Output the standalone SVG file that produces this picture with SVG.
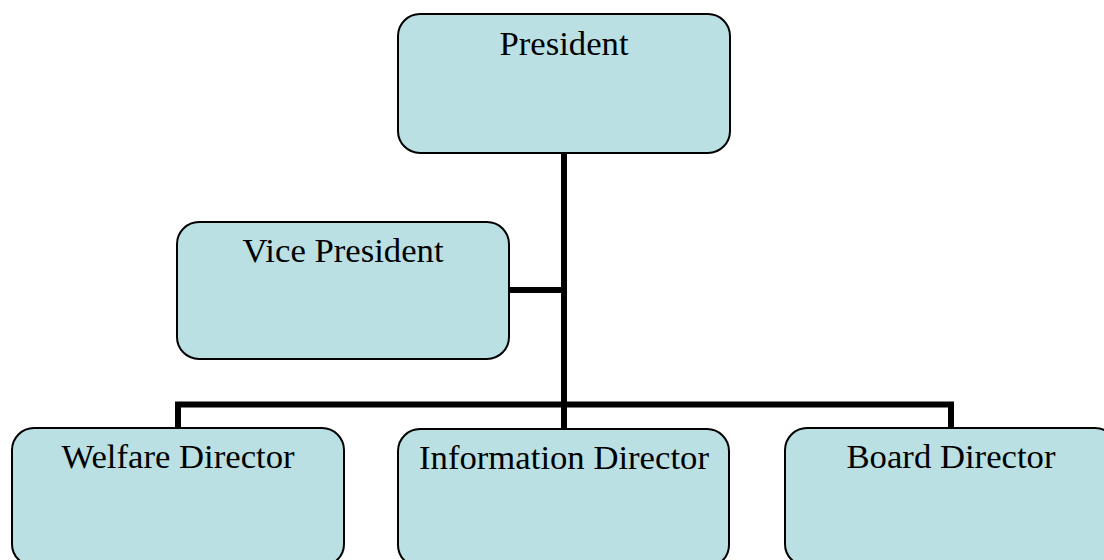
<svg xmlns="http://www.w3.org/2000/svg" width="1104" height="560" viewBox="0 0 1104 560">
<style>
.box{fill:#BAE0E3;stroke:#000;stroke-width:2}
.lbl{font-family:"Liberation Serif","Times New Roman",serif;font-size:34.7px;fill:#000;text-anchor:middle}
.conn{fill:none;stroke:#000;stroke-width:6;stroke-linejoin:miter;stroke-linecap:butt}
</style>
<rect width="1104" height="560" fill="#fff"/>
<g id="connectors">
<path class="conn" d="M564,153 V429"/>
<path class="conn" d="M509,290 H564"/>
<path class="conn" d="M178,428 V404.5 H951 V428"/>
</g>
<g id="president">
<rect class="box" x="398" y="14" width="332" height="139" rx="22"/>
<text class="lbl" x="564" y="55">President</text>
</g>
<g id="vice-president">
<rect class="box" x="177" y="222" width="332" height="137" rx="22"/>
<text class="lbl" x="343" y="262">Vice President</text>
</g>
<g id="welfare-director">
<rect class="box" x="12" y="428" width="332" height="138" rx="22"/>
<text class="lbl" x="178" y="468">Welfare Director</text>
</g>
<g id="information-director">
<rect class="box" x="398" y="429" width="331" height="138" rx="22"/>
<text class="lbl" x="564" y="469">Information Director</text>
</g>
<g id="board-director">
<rect class="box" x="785" y="428" width="332" height="138" rx="22"/>
<text class="lbl" x="951" y="468">Board Director</text>
</g>
</svg>
